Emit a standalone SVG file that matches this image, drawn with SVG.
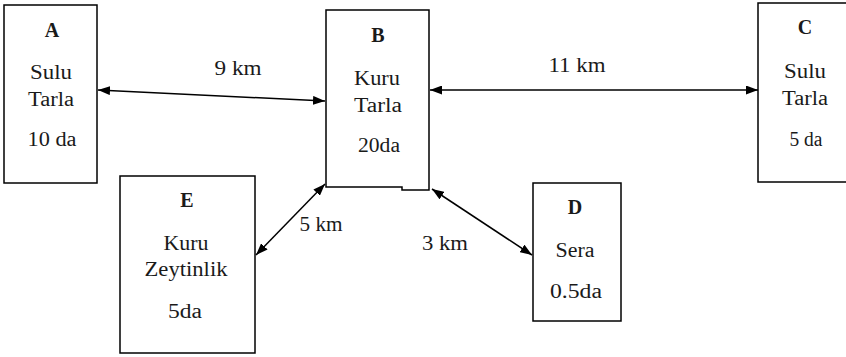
<svg xmlns="http://www.w3.org/2000/svg" width="846" height="357" viewBox="0 0 846 357">
<style>
.box{fill:#fff;stroke:#000;stroke-width:1.5}
.t{font-family:"Liberation Serif","Times New Roman",serif;font-size:20px;fill:#1a1a1a;text-anchor:middle}
.b{font-weight:bold}
.c{stroke:#000;stroke-width:1.5;fill:none;marker-start:url(#ah);marker-end:url(#ah)}
</style>
<defs>
<marker id="ah" markerUnits="userSpaceOnUse" markerWidth="13" markerHeight="9" refX="12" refY="4.5" orient="auto-start-reverse" viewBox="0 0 13 9">
<path d="M0,0 L12,4.5 L0,9 z" fill="#000"/>
</marker>
</defs>
<rect width="846" height="357" fill="#fff"/>
<g id="A">
<rect class="box" x="4" y="5" width="93" height="178"/>
<text class="t b" x="52" y="37">A</text>
<text class="t" x="51" y="79" textLength="42" lengthAdjust="spacingAndGlyphs">Sulu</text>
<text class="t" x="51" y="106" textLength="46" lengthAdjust="spacingAndGlyphs">Tarla</text>
<text class="t" x="52" y="146" textLength="49" lengthAdjust="spacingAndGlyphs">10 da</text>
</g>
<g id="B">
<path class="box" d="M326,10 H429 V190 H402 V187 H326 Z"/>
<text class="t b" x="378" y="42">B</text>
<text class="t" x="377" y="85" textLength="46" lengthAdjust="spacingAndGlyphs">Kuru</text>
<text class="t" x="378" y="112" textLength="48" lengthAdjust="spacingAndGlyphs">Tarla</text>
<text class="t" x="379" y="152" textLength="42" lengthAdjust="spacingAndGlyphs">20da</text>
</g>
<g id="C">
<rect class="box" x="758" y="3" width="92" height="179"/>
<text class="t b" x="805" y="34">C</text>
<text class="t" x="805" y="78" textLength="42" lengthAdjust="spacingAndGlyphs">Sulu</text>
<text class="t" x="805" y="105" textLength="46" lengthAdjust="spacingAndGlyphs">Tarla</text>
<text class="t" x="806" y="146" textLength="33" lengthAdjust="spacingAndGlyphs">5 da</text>
</g>
<g id="E">
<rect class="box" x="120" y="176" width="135" height="177"/>
<text class="t b" x="187" y="207">E</text>
<text class="t" x="186" y="250" textLength="45" lengthAdjust="spacingAndGlyphs">Kuru</text>
<text class="t" x="186" y="276" textLength="83" lengthAdjust="spacingAndGlyphs">Zeytinlik</text>
<text class="t" x="185" y="318" textLength="34" lengthAdjust="spacingAndGlyphs">5da</text>
</g>
<g id="D">
<rect class="box" x="533" y="183" width="88" height="138"/>
<text class="t b" x="575" y="214">D</text>
<text class="t" x="575" y="257" textLength="39" lengthAdjust="spacingAndGlyphs">Sera</text>
<text class="t" x="576" y="298" textLength="52" lengthAdjust="spacingAndGlyphs">0.5da</text>
</g>
<g id="connectors">
<line class="c" x1="98" y1="90" x2="325" y2="101"/>
<line class="c" x1="430" y1="90" x2="758" y2="90"/>
<line class="c" x1="325" y1="184" x2="256" y2="255"/>
<line class="c" x1="432" y1="189" x2="532" y2="255"/>
<text class="t" x="238" y="75" textLength="47" lengthAdjust="spacingAndGlyphs">9 km</text>
<text class="t" x="577" y="72" textLength="57" lengthAdjust="spacingAndGlyphs">11 km</text>
<text class="t" x="321" y="231" textLength="43" lengthAdjust="spacingAndGlyphs">5 km</text>
<text class="t" x="445" y="250" textLength="46" lengthAdjust="spacingAndGlyphs">3 km</text>
</g>
</svg>
